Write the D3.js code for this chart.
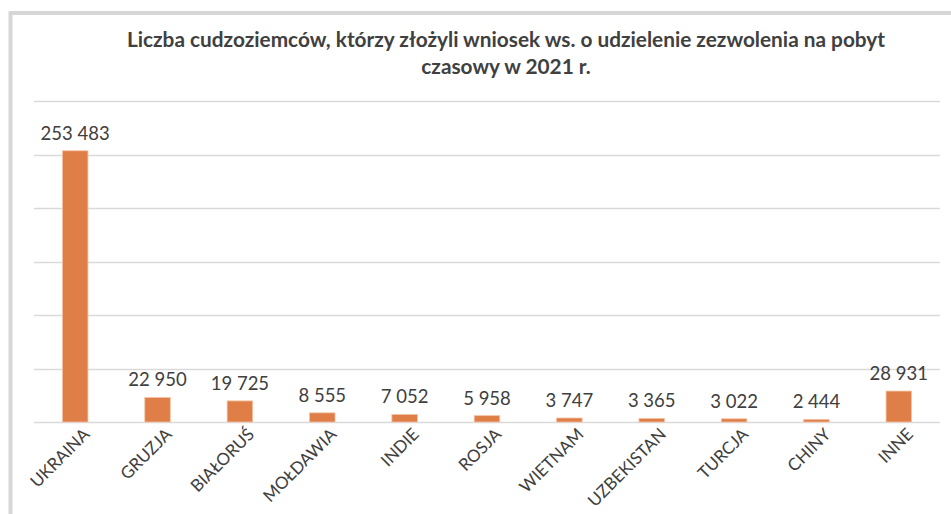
<!DOCTYPE html>
<html>
<head>
<meta charset="utf-8">
<script src="https://cdn.jsdelivr.net/npm/d3@7"></script>
<style>
  body { margin: 0; background: #fff; }
  svg { display: block; }
</style>
</head>
<body>
<svg id="chart" width="951" height="514"></svg>
<script>
  var categories = ['UKRAINA', 'GRUZJA', 'BIAŁORUŚ', 'MOŁDAWIA', 'INDIE', 'ROSJA', 'WIETNAM', 'UZBEKISTAN', 'TURCJA', 'CHINY', 'INNE']
  var values = [253483, 22950, 19725, 8555, 7052, 5958, 3747, 3365, 3022, 2444, 28931]
  var gridTicks = [0, 50000, 100000, 150000, 200000, 250000, 300000]
  var titleLines = ['Liczba cudzoziemców, którzy złożyli wniosek ws. o udzielenie zezwolenia na pobyt', 'czasowy w 2021 r.']

  var colorBar = '#e07e48'
  var colorBarEdge = '#f6c4a6'
  var colorGrid = '#d9d9d9'
  var colorText = '#404040'

  var width = 951, height = 514
  var margin = { top: 101, right: 11, bottom: 92, left: 34 }

  var svg = d3.select('#chart')

  // frame (cropped chart area border)
  svg.append('rect')
    .attr('x', 10.5).attr('y', 13)
    .attr('width', 1000).attr('height', 600)
    .attr('fill', 'none')
    .attr('stroke', '#d6d6d6')
    .attr('stroke-width', 4)

  var x = d3.scaleBand()
    .domain(categories)
    .range([margin.left, width - margin.right])
    .paddingInner(0.69)
    .paddingOuter(0.345)

  var y = d3.scaleLinear()
    .domain([0, 300000])
    .range([height - margin.bottom, margin.top])

  // gridlines
  svg.append('g')
    .selectAll('line')
    .data(gridTicks)
    .join('line')
    .attr('x1', margin.left)
    .attr('x2', width - margin.right)
    .attr('y1', function (d) { return Math.round(y(d)) + 0.5 })
    .attr('y2', function (d) { return Math.round(y(d)) + 0.5 })
    .attr('stroke', colorGrid)
    .attr('stroke-width', 1.5)

  // bars
  svg.append('g')
    .selectAll('rect')
    .data(values)
    .join('rect')
    .attr('x', function (d, i) { return x(categories[i]) })
    .attr('y', function (d) { return y(d) })
    .attr('width', x.bandwidth())
    .attr('height', function (d) { return y(0) - y(d) })
    .attr('fill', colorBar)
    .attr('stroke', colorBarEdge)
    .attr('stroke-width', 0.8)

  // value labels
  var fmt = function (v) { return d3.format(',')(v).replace(/,/g, ' ') }
  svg.append('g')
    .selectAll('text')
    .data(values)
    .join('text')
    .attr('x', function (d, i) { return x(categories[i]) + x.bandwidth() / 2 })
    .attr('y', function (d) { return y(d) - 11 })
    .attr('text-anchor', 'middle')
    .attr('font-family', 'Lato, sans-serif')
    .attr('font-size', 18.5)
    .attr('fill', colorText)
    .text(fmt)

  // category axis labels
  svg.append('g')
    .selectAll('text')
    .data(categories)
    .join('text')
    .attr('transform', function (d) {
      var cx = x(d) + x.bandwidth() / 2 + 7
      return 'translate(' + cx + ',' + 427 + ') rotate(-45)'
    })
    .attr('text-anchor', 'end')
    .attr('dy', '0.7em')
    .attr('font-family', 'Lato, sans-serif')
    .attr('font-size', 17)
    .attr('fill', colorText)
    .text(function (d) { return d })

  // title
  svg.append('g')
    .selectAll('text')
    .data(titleLines)
    .join('text')
    .attr('x', 506)
    .attr('y', function (d, i) { return 47 + i * 27 })
    .attr('text-anchor', 'middle')
    .attr('font-family', 'Lato, sans-serif')
    .attr('font-weight', 'bold')
    .attr('font-size', 20.8)
    .attr('fill', colorText)
    .text(function (d) { return d })
</script>
</body>
</html>
